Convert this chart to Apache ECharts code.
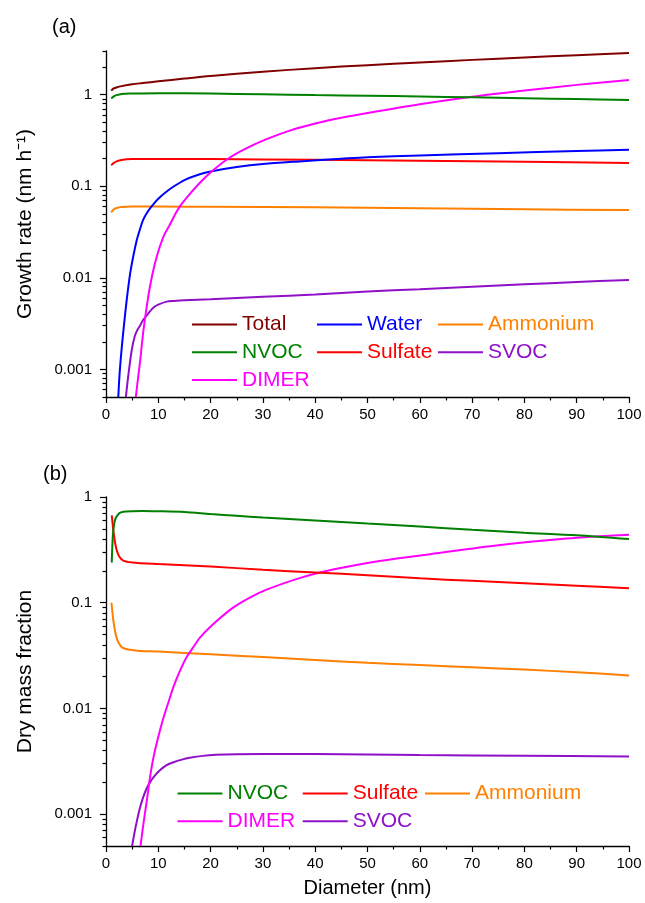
<!DOCTYPE html>
<html>
<head>
<meta charset="utf-8">
<script src="https://cdn.jsdelivr.net/npm/echarts@6/dist/echarts.min.js"></script>
<style>
html,body{margin:0;padding:0;background:#fff;}
#chart{width:645px;height:903px;}
</style>
</head>
<body>
<div id="chart"></div>
<script>
// ---------- DATA ----------
// Panel (a): growth rate (nm h^-1) vs diameter (nm)
const totalX = [1, 1.5, 2, 3, 5, 7, 10, 15, 20, 30, 40, 50, 60, 70, 80, 90, 100];
const totalY = [1.11, 1.17, 1.2, 1.24, 1.3, 1.34, 1.4, 1.5, 1.6, 1.78, 1.95, 2.1, 2.25, 2.4, 2.55, 2.7, 2.86];

const nvocX = [1, 1.5, 2, 3, 5, 10, 20, 30, 40, 50, 60, 70, 80, 90, 100];
const nvocY = [0.91, 0.96, 0.99, 1.02, 1.03, 1.04, 1.03, 1.01, 0.99, 0.975, 0.955, 0.935, 0.915, 0.895, 0.875];

const sulfX = [1, 1.5, 2, 3, 5, 10, 20, 40, 60, 80, 100];
const sulfY = [0.17, 0.18, 0.187, 0.194, 0.198, 0.199, 0.198, 0.195, 0.19, 0.185, 0.18];

const ammX = [1, 1.5, 2, 3, 5, 10, 20, 40, 60, 80, 100];
const ammY = [0.052, 0.056, 0.058, 0.0595, 0.06, 0.06, 0.0598, 0.059, 0.0575, 0.056, 0.055];

const waterX = [2.35, 2.6, 3, 3.5, 4, 4.6, 5.2, 5.9, 6.5, 7.1, 8, 9, 10, 11.6, 13, 15, 17.5, 20, 25, 30, 37, 45, 50, 60, 75, 90, 100];
const waterY = [0.0005, 0.0009, 0.0017, 0.0033, 0.006, 0.011, 0.017, 0.026, 0.034, 0.043, 0.053, 0.063, 0.073, 0.0875, 0.1, 0.117, 0.133, 0.145, 0.162, 0.175, 0.187, 0.2, 0.208, 0.217, 0.23, 0.243, 0.25];

const dimerX = [5.7, 6, 6.5, 7.1, 7.7, 8.4, 9.3, 10.3, 11.2, 12.2, 13.1, 14.1, 16, 18, 20.2, 23.4, 27, 30.7, 35, 40, 45, 50, 60, 70, 80, 90, 100];
const dimerY = [0.0005, 0.0007, 0.0012, 0.0025, 0.0045, 0.008, 0.014, 0.022, 0.03, 0.038, 0.048, 0.06, 0.082, 0.11, 0.145, 0.201, 0.262, 0.327, 0.403, 0.484, 0.559, 0.63, 0.785, 0.948, 1.11, 1.28, 1.45];

const svocX = [3.8, 4.2, 4.9, 5.5, 6, 6.5, 7, 7.5, 8.4, 9.2, 10, 11.6, 13, 15, 20, 30, 40, 50, 60, 70, 80, 90, 100];
const svocY = [0.0005, 0.0008, 0.0016, 0.0023, 0.0027, 0.003, 0.0034, 0.0037, 0.0043, 0.0048, 0.0051, 0.0055, 0.0056, 0.0057, 0.00585, 0.0062, 0.0066, 0.0071, 0.0075, 0.008, 0.0085, 0.009, 0.0095];

// Panel (b): dry mass fraction vs diameter (nm)
const nvocBX = [1.1, 1.25, 1.4, 1.6, 1.8, 2, 2.5, 3.3, 5, 7, 10, 15, 20, 25, 30, 40, 50, 60, 70, 80, 90, 100];
const nvocBY = [0.24, 0.38, 0.48, 0.57, 0.62, 0.65, 0.70, 0.725, 0.735, 0.737, 0.733, 0.72, 0.69, 0.665, 0.64, 0.60, 0.56, 0.525, 0.49, 0.46, 0.435, 0.40];

const sulfBX = [1.1, 1.25, 1.4, 1.7, 2, 2.5, 3.3, 5, 10, 20, 30, 40, 50, 60, 70, 80, 90, 100];
const sulfBY = [0.67, 0.57, 0.48, 0.38, 0.32, 0.275, 0.25, 0.24, 0.232, 0.22, 0.205, 0.193, 0.182, 0.17, 0.161, 0.153, 0.145, 0.137];

const ammBX = [1.05, 1.3, 1.5, 1.7, 2, 2.4, 3, 4, 6, 10, 20, 30, 40, 50, 60, 70, 80, 90, 100];
const ammBY = [0.1, 0.075, 0.063, 0.055, 0.047, 0.042, 0.038, 0.0363, 0.0352, 0.0345, 0.0325, 0.0306, 0.0288, 0.027, 0.0257, 0.0245, 0.0233, 0.022, 0.0205];

const dimerBX = [6.6, 7.2, 7.8, 8.4, 9, 10, 11, 12, 13, 14.2, 15.4, 16.7, 18, 21, 24.3, 27.5, 30.7, 37, 43.4, 50, 56, 62, 75, 88, 100];
const dimerBY = [0.0005, 0.00084, 0.00134, 0.0022, 0.0033, 0.0054, 0.0082, 0.0117, 0.0165, 0.023, 0.0305, 0.038, 0.047, 0.066, 0.09, 0.112, 0.133, 0.171, 0.206, 0.238, 0.263, 0.288, 0.35, 0.405, 0.44];

const svocBX = [5, 5.4, 5.9, 6.5, 7.1, 7.7, 8.4, 9.3, 10.3, 11.5, 12.9, 14.5, 16, 18.5, 21, 25, 30, 40, 50, 60, 80, 100];
const svocBY = [0.0005, 0.00065, 0.00086, 0.00115, 0.00144, 0.00172, 0.002, 0.0023, 0.0026, 0.0029, 0.0031, 0.00328, 0.00341, 0.00356, 0.00364, 0.00369, 0.0037, 0.0037, 0.00366, 0.00362, 0.00357, 0.00352];

// Axis ticks
const xMajorTicks = [0, 10, 20, 30, 40, 50, 60, 70, 80, 90, 100];
const yMajorTicksA = [0.001, 0.01, 0.1, 1];
const yMajorTicksB = [0.001, 0.01, 0.1, 1];

// ---------- STYLE ----------
const FONT = 'Arial, "Liberation Sans", sans-serif';
const C = {
  Total: '#800000', Water: '#0000FF', Ammonium: '#FF8000', NVOC: '#008000',
  Sulfate: '#FF0000', SVOC: '#9010C8', DIMER: '#FF00FF'
};

function pairs(xs, ys) { return xs.map((x, i) => [x, ys[i]]); }
function minorVals(lo, hi) {
  const out = [];
  for (let e = -4; e <= 1; e++) {
    for (let m = 2; m <= 9; m++) {
      const v = Number((m * Math.pow(10, e)).toPrecision(3));
      if (v >= lo * 0.9999 && v <= hi * 1.0001) out.push(v);
    }
  }
  return out;
}

const G1 = { left: 106, top: 51, width: 523, height: 346 };
const G2 = { left: 106, top: 497, width: 523, height: 349 };
const yMinA = 0.0005, yMaxA = 3, yMinB = 0.0005, yMaxB = 1;

function xAxis(gridIndex, withName) {
  return {
    type: 'value', gridIndex, min: 0, max: 100, interval: 10,
    axisLine: { show: true, lineStyle: { color: '#000', width: 1.3 } },
    axisTick: { show: true, inside: false, length: 6, customValues: xMajorTicks, lineStyle: { color: '#000', width: 1.2 } },
    minorTick: { show: true, splitNumber: 2, length: 3.5, lineStyle: { color: '#000', width: 1.2 } },
    splitLine: { show: false },
    axisLabel: { color: '#000', fontSize: 15, fontFamily: FONT, margin: 10 },
    name: withName ? 'Diameter (nm)' : '',
    nameLocation: 'middle', nameGap: 32,
    nameTextStyle: { color: '#000', fontSize: 20, fontFamily: FONT }
  };
}
function yAxisMain(gridIndex, min, max, majors, name) {
  return {
    type: 'log', logBase: 10, gridIndex, min, max,
    axisLine: { show: true, lineStyle: { color: '#000', width: 1.3 } },
    axisTick: { show: true, length: 6, customValues: majors, lineStyle: { color: '#000', width: 1.2 } },
    axisLabel: { color: '#000', fontSize: 15, fontFamily: FONT, margin: 14, customValues: majors,
                 formatter: v => String(Number(v.toPrecision(3))) },
    splitLine: { show: false },
    minorTick: { show: false },
    name, nameLocation: 'middle', nameGap: 70,
    nameTextStyle: { color: '#000', fontSize: 21, fontFamily: FONT }
  };
}
function yAxisMinor(gridIndex, min, max) {
  return {
    type: 'log', logBase: 10, gridIndex, min, max, position: 'left',
    axisLine: { show: false },
    axisTick: { show: true, length: 3.5, customValues: minorVals(min, max), lineStyle: { color: '#000', width: 1.2 } },
    axisLabel: { show: false },
    splitLine: { show: false }
  };
}

function line(name, xs, ys, xi, yi) {
  return {
    type: 'line', name, xAxisIndex: xi, yAxisIndex: yi,
    data: pairs(xs, ys), symbol: 'none', showSymbol: false,
    smooth: 0.3, clip: true,
    lineStyle: { color: C[name], width: 2 }, itemStyle: { color: C[name] },
    emphasis: { disabled: true }
  };
}

function legend(names, left, top) {
  return {
    orient: 'vertical', left, top, padding: 0, itemGap: 6.7,
    icon: 'rect', itemWidth: 45, itemHeight: 2, selectedMode: false,
    textStyle: { fontSize: 21, fontFamily: FONT, lineHeight: 20 },
    data: names.map(n => ({ name: n, itemStyle: { color: C[n] }, textStyle: { color: C[n] } }))
  };
}

const option = {
  animation: false,
  backgroundColor: '#fff',
  grid: [G1, G2],
  xAxis: [xAxis(0, false), xAxis(1, true)],
  yAxis: [
    yAxisMain(0, yMinA, yMaxA, yMajorTicksA, 'Growth rate (nm h\u207B\u00B9)'),
    yAxisMinor(0, yMinA, yMaxA),
    yAxisMain(1, yMinB, yMaxB, yMajorTicksB, 'Dry mass fraction'),
    yAxisMinor(1, yMinB, yMaxB)
  ],
  legend: [
    legend(['Total', 'NVOC', 'DIMER'], 192, 314),
    legend(['Water', 'Sulfate'], 317, 314),
    legend(['Ammonium', 'SVOC'], 438, 314),
    legend(['NVOC', 'DIMER'], 177.5, 783),
    legend(['Sulfate', 'SVOC'], 302.7, 783),
    legend(['Ammonium'], 425, 783)
  ],
  graphic: [
    { type: 'text', left: 52, top: 17, style: { text: '(a)', fontSize: 20, fontFamily: FONT, fill: '#000' } },
    { type: 'text', left: 43, top: 464, style: { text: '(b)', fontSize: 20, fontFamily: FONT, fill: '#000' } }
  ],
  series: [
    line('Ammonium', ammX, ammY, 0, 0),
    line('Sulfate', sulfX, sulfY, 0, 0),
    line('SVOC', svocX, svocY, 0, 0),
    line('Water', waterX, waterY, 0, 0),
    line('DIMER', dimerX, dimerY, 0, 0),
    line('NVOC', nvocX, nvocY, 0, 0),
    line('Total', totalX, totalY, 0, 0),
    line('Ammonium', ammBX, ammBY, 1, 2),
    line('SVOC', svocBX, svocBY, 1, 2),
    line('DIMER', dimerBX, dimerBY, 1, 2),
    line('Sulfate', sulfBX, sulfBY, 1, 2),
    line('NVOC', nvocBX, nvocBY, 1, 2)
  ]
};

const chart = echarts.init(document.getElementById('chart'), null, { renderer: 'canvas' });
chart.setOption(option);
</script>
</body>
</html>
